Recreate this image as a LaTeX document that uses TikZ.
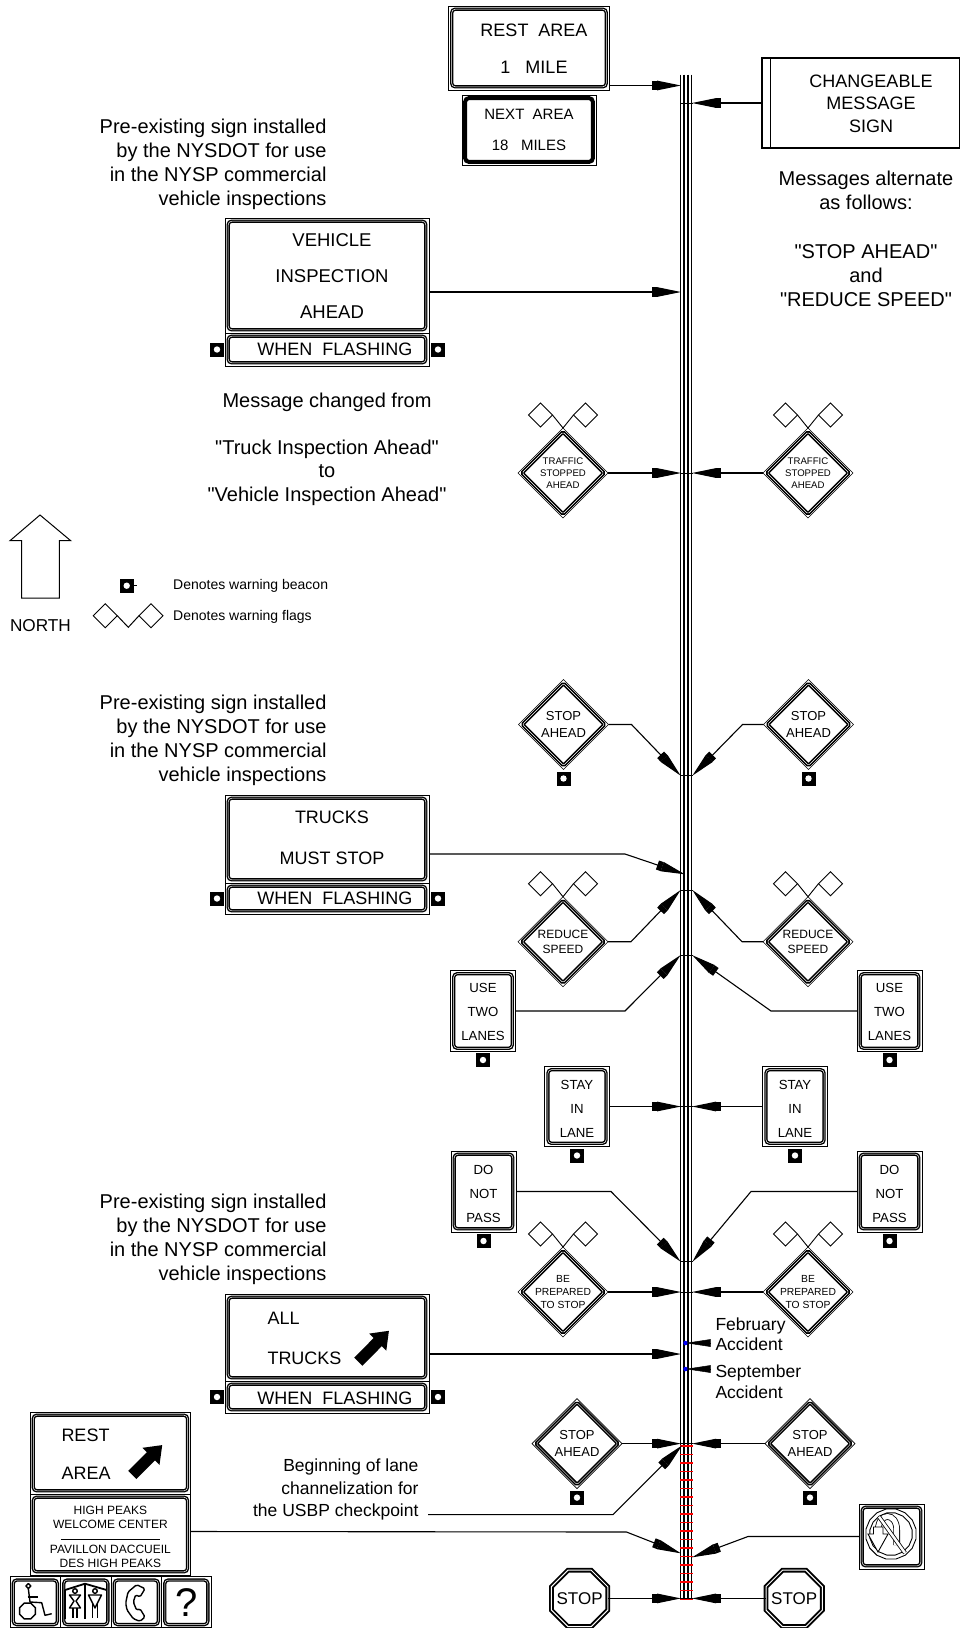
\documentclass[tikz,border=0pt]{standalone}
\usepackage{fontspec}
\setmainfont{Liberation Sans}[Ligatures=TeXOff]
\usetikzlibrary{arrows.meta,
                calc,
                positioning,
                shapes.geometric}
\definecolor{tickred}{RGB}{255,0,0}
\definecolor{dotblue}{RGB}{0,0,255}
\tikzset{%
    txt/.style 2 args = {font=\fontsize{#1}{#2}\selectfont, align=center, inner sep=0pt},
    signband/.style = {line width=1.4pt, double=white, double distance=.5pt},
    signrect/.style = {rectangle, draw, line width=.8pt, inner sep=0pt, outer sep=0pt,
                       path picture={\draw[signband, rounded corners=3.5pt, #1]
                           ($(path picture bounding box.south west)+(3.2pt,3.2pt)$) rectangle
                           ($(path picture bounding box.north east)+(-3.2pt,-3.2pt)$);}},
    signrect/.default = {},
    diasign/.style = {diamond, draw, line width=.6pt, inner sep=-6pt, outer sep=0pt,
                      minimum size=90pt,
                      path picture={\draw[signband, line width=1.6pt, rounded corners=1.5pt]
                           ($(path picture bounding box.north)+(0pt,-4pt)$) --
                           ($(path picture bounding box.east)+(-4pt,0pt)$) --
                           ($(path picture bounding box.south)+(0pt,4pt)$) --
                           ($(path picture bounding box.west)+(4pt,0pt)$) -- cycle;}},
    octosign/.style = {regular polygon, regular polygon sides=8,
                       draw, line width=1.9pt, double=white, double distance=1pt,
                       minimum size=61pt, inner sep=-8pt, outer sep=0pt},
    flag/.style = {diamond, draw, line width=.9pt, minimum size=24pt, inner sep=0pt, outer sep=0pt},
    beacon/.style = {rectangle, fill=black, minimum size=14pt, inner sep=0pt, outer sep=0pt,
                     path picture={\fill[white] (path picture bounding box.center) circle (3.2pt);}},
    wedge/.style = {-{Rectangle[length=5pt,width=9.5pt]Triangle[length=24pt,width=9.5pt]},
                    line width=1.1pt, shorten >=-1pt},
    smallwedge/.style = {-{Triangle[length=25pt,width=7.5pt]}, line width=.5pt},
    bigarrow/.style = {-{Triangle[length=16pt,width=23pt]}, line width=11.5pt},
    roadline/.style = {line width=1.5pt},
    icon/.style = {line width=1.4pt, line join=round}
}
\begin{document}
\begin{tikzpicture}[x=1pt,y=-1pt,line width=1pt]
\useasboundingbox (0,0) rectangle (959,1628);
% road
\node [inner sep=0pt, minimum width=12pt, minimum height=1524pt] (road) at (686.5,837) {};
\foreach \k in {.5,4,8,11.5}
    \draw [roadline] ($(road.north west)+(\k pt,0pt)$) -- ($(road.south west)+(\k pt,0pt)$);
\foreach \i in {0,...,18}
    \draw [tickred, line width=1.1pt] (road.west |- 0,1446+8.5*\i) -- (road.east |- 0,1446+8.5*\i);
\foreach \tip/\yy in {stop/775,red/890.7,use/955.7,do/1261} {
    \coordinate (\tip tipL) at (road.west |- 0,\yy);
    \coordinate (\tip tipR) at (road.east |- 0,\yy);
    \draw (\tip tipL) -- (\tip tipR);
}
% north arrow and legend
\draw (40,515) -- (70.7,540.7) -- (59.3,540.7) -- (59.3,598) -- (21.7,598) -- (21.7,540.7) -- (10,540.7) -- cycle;
\node [txt={17.2}{20}] (north) at (40.5,626) {NORTH};
\node [beacon] (legbeacon) at (126.7,585.7) {};
\draw (legbeacon.east) -- ++(3,0);
\node [txt={14}{16}, anchor=west] (legbeacontxt) at (172.7,586) {Denotes warning beacon};
\node [flag] (legflagL) at (105.3,615.7) {};
\node [flag] (legflagR) at (151,615.7) {};
\draw (legflagL.east) -- (128.3,627.3) -- (legflagR.west);
\node [txt={14}{16}, anchor=west] (legflagtxt) at (172.7,616.7) {Denotes warning flags};
% notes
\node [txt={20}{24}, align=right, anchor=east] (note1) at (327,164.5) {Pre-existing sign installed\\by the NYSDOT for use\\in the NYSP commercial\\vehicle inspections};
\node [txt={20}{24}, align=right, anchor=east] (note2) at (327,740.5) {Pre-existing sign installed\\by the NYSDOT for use\\in the NYSP commercial\\vehicle inspections};
\node [txt={20}{24}, align=right, anchor=east] (note3) at (327,1239) {Pre-existing sign installed\\by the NYSDOT for use\\in the NYSP commercial\\vehicle inspections};
\node [txt={20}{23.5}] (msgnote) at (327,449) {Message changed from\\[23.5pt]"Truck Inspection Ahead"\\to\\"Vehicle Inspection Ahead"};
\node [txt={20}{24}] (altnote) at (866,239) {Messages alternate\\as follows:\\[25pt]"STOP AHEAD"\\and\\"REDUCE SPEED"};
% top signs
\node [signrect, minimum width=161pt, minimum height=84pt] (rest) at (529,48) {};
\node [txt={18}{37}] (resttxt) at (534,48.5) {REST~~AREA\\1~~~MILE};
\node [signrect={double distance=0pt,line width=2pt}, below=5pt of rest, minimum width=134pt, minimum height=70pt, txt={15}{31}] (next) {NEXT~~AREA\\18~~~MILES};
\node [rectangle, draw, line width=1.6pt, minimum width=197.5pt, minimum height=89.5pt, outer sep=0pt] (cms) at (860.75,103) {};
\draw ($(cms.north west)+(8pt,0pt)$) -- ($(cms.south west)+(8pt,0pt)$);
\node [txt={18}{22.5}] (cmstxt) at (871,103.5) {CHANGEABLE\\MESSAGE\\SIGN};
\coordinate (restout) at ($(rest.south east)+(0pt,4.5pt)$);
\draw [wedge] (restout) -- (restout -| road.west);
\draw [wedge] (cms.west) -- (cms.west -| road.east);
\draw (cms.west -| road.east) -- (cms.west -| road.west);
% vehicle inspection
\node [signrect, minimum width=204pt, minimum height=115pt] (vehicle) at (327,275.5) {};
\node [txt={18.5}{36}] (vehicletxt) at (332,276) {VEHICLE\\INSPECTION\\AHEAD};
\node [signrect, below=0pt of vehicle, minimum width=204pt, minimum height=33pt] (flash1) {};
\node [txt={18}{20}] (flash1txt) at (335,349) {WHEN~~FLASHING};
\node [beacon, left=1pt of flash1] (beacon1L) {};
\node [beacon, right=2pt of flash1] (beacon1R) {};
\coordinate (vehicleout) at ($(vehicle.east)+(0pt,-16.5pt)$);
\draw [wedge] (vehicleout) -- (vehicleout -| road.west);
% diamonds along the road
\node [txt={9.6}{12}, diasign] (trafL) at (563,473) {TRAFFIC\\STOPPED\\AHEAD};
\node [txt={9.6}{12}, diasign] (trafR) at (808,473) {TRAFFIC\\STOPPED\\AHEAD};
\node [txt={13}{16.5}, diasign] (stopL) at (563.5,724.5) {STOP\\AHEAD};
\node [txt={13}{16.5}, diasign] (stopR) at (808.5,724.5) {STOP\\AHEAD};
\node [beacon, below=2pt of stopL] (beaconsL) {};
\node [beacon, below=2pt of stopR] (beaconsR) {};
\draw [wedge] (stopL.east) -- ++(23,0) -- (stoptipL);
\draw [wedge] (stopR.west) -- ++(-21,0) -- (stoptipR);
% trucks must stop
\node [signrect, minimum width=204pt, minimum height=88pt] (trucks) at (327,839) {};
\node [txt={18}{41}] (truckstxt) at (332,838) {TRUCKS\\MUST STOP};
\node [signrect, below=0pt of trucks, minimum width=204pt, minimum height=31pt] (flash2) {};
\node [txt={18}{20}] (flash2txt) at (335,898) {WHEN~~FLASHING};
\node [beacon, left=1pt of flash2] (beacon2L) {};
\node [beacon, right=2pt of flash2] (beacon2R) {};
\coordinate (trucksout) at ($(trucks.east)+(0pt,-15pt)$);
\coordinate (truckstip) at (684,874);
\draw [wedge] (trucksout) -- (625,854) -- (truckstip);
\node [txt={12}{15.5}, diasign] (redL) at (563,941.7) {REDUCE\\SPEED};
\node [txt={12}{15.5}, diasign] (redR) at (808,941.7) {REDUCE\\SPEED};
\draw [wedge] (redL.east) -- ++(23,0) -- (redtipL);
\draw [wedge] (redR.west) -- ++(-21,0) -- (redtipR);
\node [signrect, minimum width=65pt, minimum height=81pt, txt={13.2}{24}] (useL) at (483,1011) {\rule{0pt}{12pt}USE\\TWO\\LANES};
\node [signrect, minimum width=65pt, minimum height=81pt, txt={13.2}{24}] (useR) at (889.5,1011) {\rule{0pt}{12pt}USE\\TWO\\LANES};
\node [beacon, below=1.5pt of useL] (beaconuL) {};
\node [beacon, below=1.5pt of useR] (beaconuR) {};
\draw [wedge] (useL.east) -- (625,1011) -- (usetipL);
\draw [wedge] (useR.west) -- (771,1011) -- (usetipR);
\node [signrect, minimum width=64.5pt, minimum height=80pt, txt={13.2}{24}] (stayL) at (577,1106.5) {\rule{0pt}{14pt}STAY\\IN\\LANE};
\node [signrect, minimum width=64.5pt, minimum height=80pt, txt={13.2}{24}] (stayR) at (795,1106.5) {\rule{0pt}{14pt}STAY\\IN\\LANE};
\node [beacon, below=2pt of stayL] (beaconyL) {};
\node [beacon, below=2pt of stayR] (beaconyR) {};
\node [signrect, minimum width=65pt, minimum height=81pt, txt={13.2}{24.2}] (doL) at (483.5,1191.5) {\rule{0pt}{14pt}DO\\NOT\\PASS};
\node [signrect, minimum width=65pt, minimum height=81pt, txt={13.2}{24.2}] (doR) at (889.5,1191.5) {\rule{0pt}{14pt}DO\\NOT\\PASS};
\node [beacon, below=2pt of doL] (beacondL) {};
\node [beacon, below=2pt of doR] (beacondR) {};
\draw [wedge] (doL.east) -- (611,1191.5) -- (dotipL);
\draw [wedge] (doR.west) -- (751,1191.5) -- (dotipR);
\node [txt={10.3}{13.3}, diasign] (prepL) at (563,1292) {BE\\PREPARED\\TO STOP};
\node [txt={10.3}{13.3}, diasign] (prepR) at (808,1292) {BE\\PREPARED\\TO STOP};
\foreach \sgn in {trafL,trafR,redL,redR,prepL,prepR} {
    \node [flag] (\sgn-fl) at ($(\sgn.north)+(-22.5pt,13pt)$) {};
    \node [flag] (\sgn-fr) at ($(\sgn.north)+(22.5pt,13pt)$) {};
    \draw [line width=.9pt] (\sgn-fl.east) -- (\sgn.north) -- (\sgn-fr.west);
}
% all trucks
\node [signrect, minimum width=204pt, minimum height=87pt] (alltrucks) at (327,1337.5) {};
\node [txt={18}{40}, align=left, anchor=west] (alltrucktxt) at (267,1338) {ALL\\TRUCKS};
\coordinate (alltail) at (358.3,1361.7);
\coordinate (allhead) at (389,1330.7);
\draw [bigarrow] (alltail) -- (allhead);
\node [signrect, below=0pt of alltrucks, minimum width=204pt, minimum height=32pt] (flash3) {};
\node [txt={18}{20}] (flash3txt) at (335,1398) {WHEN~~FLASHING};
\node [beacon, left=1pt of flash3] (beacon3L) {};
\node [beacon, right=2pt of flash3] (beacon3R) {};
\coordinate (allout) at ($(alltrucks.east)+(0pt,-16.5pt)$);
\draw [wedge] (allout) -- (allout -| road.west);
% accidents
\node [txt={17.5}{20.5}, align=left, anchor=west] (feb) at (715,1334) {February\\Accident};
\node [txt={17.5}{20.5}, align=left, anchor=west] (sep) at (715,1381.5) {September\\Accident};
\coordinate (febtail) at (710,1343);
\coordinate (septail) at (710,1369);
\node [circle, fill=dotblue, minimum size=4.5pt, inner sep=0pt] (febdot) at (685.5,1343) {};
\node [circle, fill=dotblue, minimum size=4.5pt, inner sep=0pt] (sepdot) at (685.5,1369) {};
\draw [smallwedge] (febtail) -- (febdot.center);
\draw [smallwedge] (septail) -- (sepdot.center);
% checkpoint
\node [txt={13}{16.5}, diasign] (stopbL) at (577,1443.6) {STOP\\AHEAD};
\node [txt={13}{16.5}, diasign] (stopbR) at (810,1443.6) {STOP\\AHEAD};
\node [beacon, below=2pt of stopbL] (beaconbL) {};
\node [beacon, below=2pt of stopbR] (beaconbR) {};
\node [txt={17.5}{22.3}, align=right, anchor=east] (lanetxt) at (419,1489.5) {Beginning of lane\\channelization for\\the USBP checkpoint};
\coordinate (lanestart) at (428,1514.6);
\coordinate (lanetip) at (681.5,1446);
\draw [wedge] (lanestart) -- (613,1514.6) -- (lanetip);
\node [txt={17}{20}, octosign] (octoL) at (579.6,1598.4) {STOP};
\node [txt={17}{20}, octosign] (octoR) at (794.2,1598.4) {STOP};
\foreach \sgn in {traf,stay,prep,stopb,octo} {
    \draw [wedge] (\sgn L.east) -- (\sgn L.east -| road.west);
    \draw [wedge] (\sgn R.west) -- (\sgn R.west -| road.east);
    \draw (\sgn L.east -| road.west) -- (\sgn R.west -| road.east);
}
% no u-turn
\node [signrect, minimum width=65pt, minimum height=65pt] (nouturn) at (891.5,1536.5) {};
\node [regular polygon, regular polygon sides=16, draw, line width=.9pt, minimum size=51pt] (ringout) at (891,1534) {};
\node [regular polygon, regular polygon sides=16, draw, line width=.9pt, minimum size=43pt] (ringin) at (891,1534) {};
\draw [line width=.8pt, double=white, double distance=5pt] (896.7,1545) -- (896.7,1530) .. controls (896.7,1512) and (878.3,1512) .. (878.3,1530) -- (878.3,1537);
\draw [line width=.9pt, fill=white] (868,1534) -- (873.5,1534) -- (873.5,1527) -- (883,1527) -- (883,1534) -- (888,1534) -- (878,1552) -- cycle;
\draw [line width=.8pt, double=white, double distance=2.5pt] (879,1516.7) -- (905,1553);
\coordinate (welcomeout) at ($(nouturn.west)+(-111pt,0pt)$);
\draw [wedge] (nouturn.west) -- (welcomeout) -- (road.east |- 0,1557);
% welcome center
\node [signrect, minimum width=160.7pt, minimum height=82pt] (restb) at (110.4,1453) {};
\node [txt={18}{37.7}, align=left, anchor=west] (restbtxt) at (61,1454) {REST\\AREA};
\coordinate (restbtail) at (132.3,1475);
\coordinate (restbhead) at (162.3,1445);
\draw [bigarrow] (restbtail) -- (restbhead);
\node [signrect, below=0pt of restb, minimum width=160.7pt, minimum height=81pt] (welcome) {};
\node [txt={12}{14}] (welcometxt) at ($(welcome.center)+(0pt,-2pt)$)
    {HIGH PEAKS\\WELCOME CENTER\\[-2pt]\rule{99pt}{1.2pt}\\[-1pt]PAVILLON DACCUEIL\\DES HIGH PEAKS};
\coordinate (welcomeexit) at ($(welcome.east)+(0pt,3pt)$);
\draw [wedge] (welcomeexit) -- (626.5,1532) -- (road.west |- 0,1553);
% service icons
\node [signrect, minimum width=50.5pt, minimum height=51pt] (iconA) at (35.3,1602.3) {};
\node [signrect, right=0pt of iconA, minimum width=50.5pt, minimum height=51pt] (iconB) {};
\node [signrect, right=0pt of iconB, minimum width=50.5pt, minimum height=51pt] (iconC) {};
\node [signrect, right=0pt of iconC, minimum width=49.5pt, minimum height=51pt, txt={40}{44}] (iconD) {?};
% wheelchair
\draw [icon] (28.3,1583.5) -- (30.8,1586) -- (28.3,1588.5) -- (25.8,1586) -- cycle;
\draw [icon] (28.3,1588.5) -- (30,1602) -- (41.7,1602.7) -- (45,1615.3) -- (51.7,1613.7);
\draw [icon] (27.7,1597) -- (38.3,1597);
\node [regular polygon, regular polygon sides=8, draw, line width=1.4pt, minimum size=17pt] (wheel) at (27.5,1611) {};
% rest rooms
\draw [icon, line width=1.8pt] (65,1590) -- (85,1583.7) -- (106.7,1590);
\draw [icon] (65,1590) -- (65,1619);
\draw [icon] (106.7,1590) -- (106.7,1619);
\draw [icon, line width=1.7pt] (85,1583.7) -- (85,1619);
\draw [icon] (75,1591) circle (2.3);
\draw [icon] (95,1591) circle (2.3);
\draw [icon] (69.5,1595) -- (80.5,1595) -- (76,1601) -- (80.5,1608) -- (69.5,1608) -- (74,1601) -- cycle;
\draw [icon] (73,1608) -- (73,1618);
\draw [icon] (77,1608) -- (77,1618);
\draw [icon] (88.5,1595) -- (101.5,1595) -- (95,1608) -- cycle;
\draw [icon] (92.5,1604) -- (92.5,1618);
\draw [icon] (97.5,1604) -- (97.5,1618);
% telephone
\draw [icon, rounded corners=1.5pt] (136.7,1584.7) -- (145,1588.7) -- (140,1597) -- (135.7,1594.7) -- (133.3,1602) -- (136.7,1610.3) -- (140,1608.7) -- (145,1617) -- (140,1621.3) -- (133.3,1618.7) -- (127,1610) -- (125.7,1603) -- (128,1592) -- cycle;
\end{tikzpicture}
\end{document}
